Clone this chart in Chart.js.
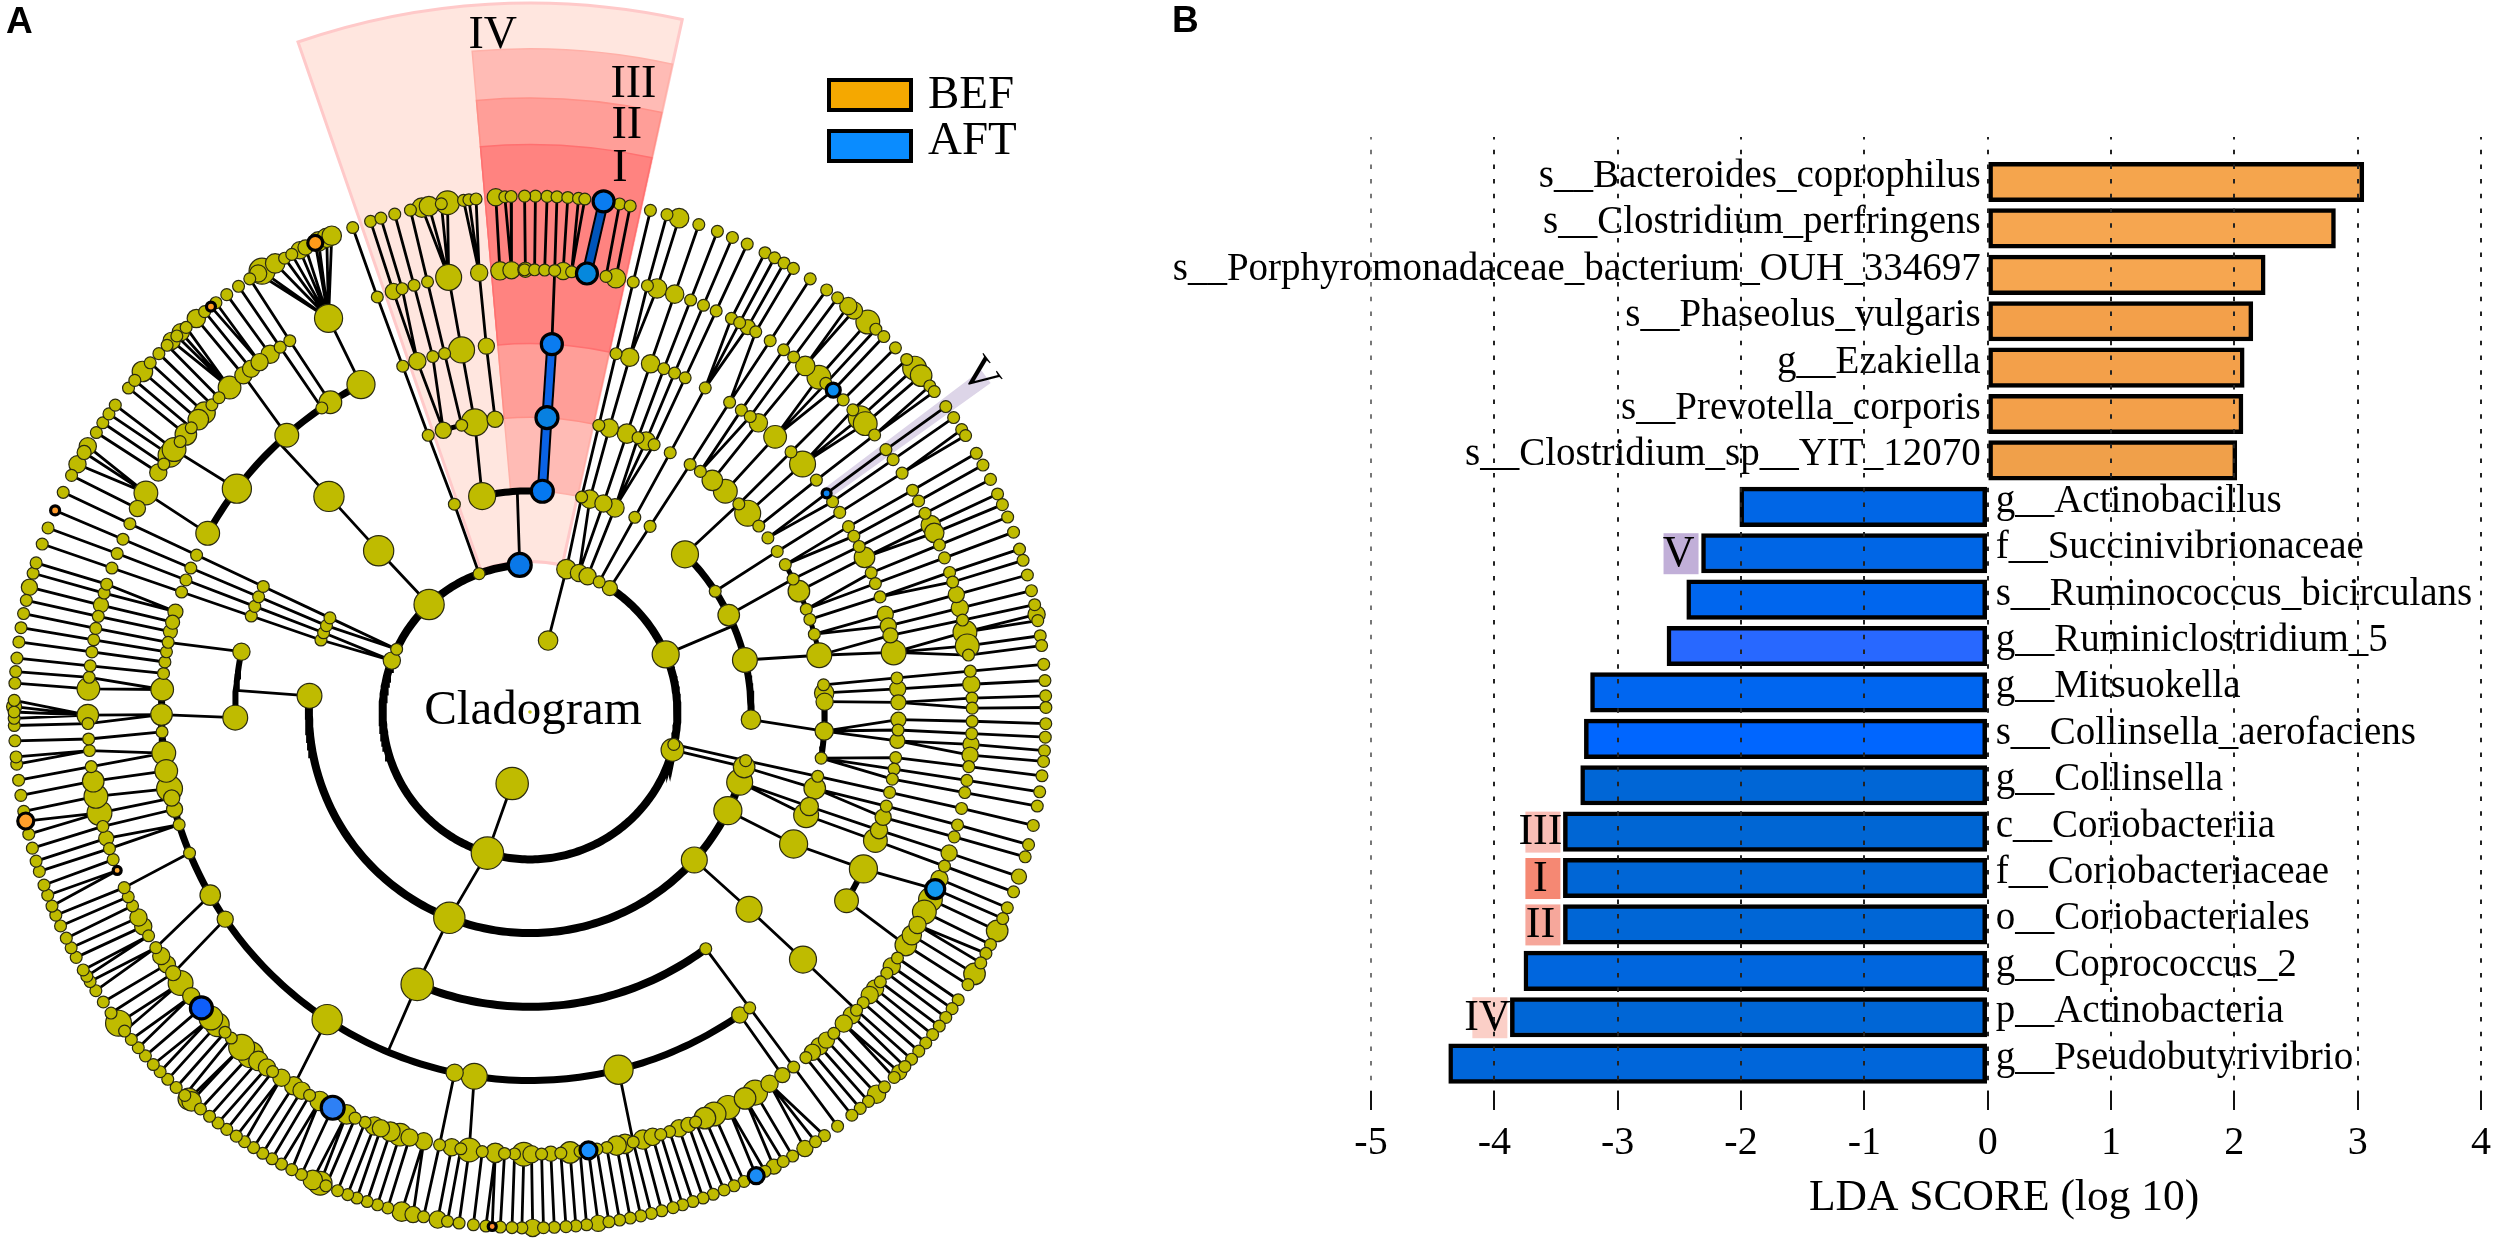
<!DOCTYPE html>
<html>
<head>
<meta charset="utf-8">
<title>Cladogram and LDA score</title>
<script src="https://cdn.jsdelivr.net/npm/chart.js@4/dist/chart.umd.js"></script>
<style>
  html, body { margin: 0; padding: 0; background: #fff; }
  canvas { position: absolute; top: 0; display: block; }
  #cladogram { left: 0; }
  #ldaBars { left: 1130px; }
</style>
</head>
<body>
<canvas id="cladogram" width="1130" height="1241"></canvas>
<canvas id="ldaBars" width="1370" height="1241"></canvas>
<script>
// LDA bars
const taxa = ['s__Bacteroides_coprophilus', 's__Clostridium_perfringens', 's__Porphyromonadaceae_bacterium_OUH_334697',
  's__Phaseolus_vulgaris', 'g__Ezakiella', 's__Prevotella_corporis', 's__Clostridium_sp__YIT_12070',
  'g__Actinobacillus', 'f__Succinivibrionaceae', 's__Ruminococcus_bicirculans', 'g__Ruminiclostridium_5',
  'g__Mitsuokella', 's__Collinsella_aerofaciens', 'g__Collinsella', 'c__Coriobacteriia', 'f__Coriobacteriaceae',
  'o__Coriobacteriales', 'g__Coprococcus_2', 'p__Actinobacteria', 'g__Pseudobutyrivibrio'];
const ldaScores = [3.05, 2.82, 2.25, 2.15, 2.08, 2.07, 2.02, -2.01, -2.32, -2.44, -2.6, -3.22, -3.27, -3.3, -3.44, -3.44, -3.44, -3.76, -3.87, -4.37];
const barColors = ['#F5A54D', '#F6A650', '#F6A650', '#F3A04A', '#F3A04A', '#F3A04A', '#F0A04A',
  '#0066E6', '#0066E6', '#0066EE', '#2868FF', '#0066F0', '#0066FF', '#0066D6', '#0066D4', '#0066D6', '#0066D6', '#0066DE', '#0066D6', '#0066DA'];
// taxon index, roman mark, tile colour
const barMarks = [[8, 'V', '#C1AFD8'], [14, 'III', '#F9BDB5'], [15, 'I', '#F58873'], [16, 'II', '#F6A79B'], [18, 'IV', '#FBCFC7']];
const axisTitle = 'LDA SCORE (log 10)';

// Cladogram nodes, angle in degrees clockwise from the top. [angle, size] where the node is not the small default
const level7 = [0.6, 1.9, 3, 4.2, 5.4, 6.1, 10, 11.2, 13.5, 15.4, [16.8, 9], 19.1, 21.3, 23.1, 24.9, 27.1, 28.3, 29.5, 30.7, 32.9, 35.1, 36.6,
  [38.9, 8], [38.1, 8], [40.9, 11], 42.1, 43.3, 45.1, 46.9, [48.2, 11], [49.3, 10], 50.8, 51.6, 53.7, 55.2, 56.8, 57.6, 59.9, 61.4, 63.2, 65, 66.3, 67.8,
  69.6, 71.6, 72.9, 74.6, 76.4, 78, [79.1, 8], 79.8, 81.5, 82.6, 84.7, 86.5, 88.2, 89.5, 91.3, 92.8, 94.3, 95.5, 97.1, 98.9, 100.5, 102.7, 104.9, 106.3,
  [108.6, 7], 110.4, 112.3, 113.6, [115.1, 10], 116.8, 117.9, 119.1, [120.5, 10], 121.9, 123.9, 125.1, 126.3, 127.5, 128.7, 129.9, 131.1, 132.3, 133.4,
  [134.3, 7], 135.1, 136.6, [137.8, 8.5], 139, 140.2, 141.4, 143.4, 145.2, 146.4, [147.8, 7.5], 149.4, 150.6, [151.8, 7], 152.9, 155.5, 156.7, 157.9,
  159.2, 160.4, 161.6, 162.8, 163.9, 165.2, 166.4, 167.6, 168.8, 170, 171.2, [172.4, 7.5], 173.7, 174.9, 176, 177.3, 178.5, [179.7, 8], 180.9, 182, 183.3,
  184.9, 186.3, 187.9, 189.2, [190.3, 8], 191.9, [193.1, 7.5], [194.4, 9], 196, 197.2, 198.4, 199.6, 200.7, 201.9, 203.3, [204.9, 9], [204, 11], 206.3,
  207.5, 208.8, 210, 211.2, 212.4, 213.6, 214.7, 216, 217.2, 218.4, 219.7, [221.4, 10], [221, 9], 222, 223.3, 224.6, 225.8, 226.9, 228.2, 229.4, 230.6,
  231.8, [232.9, 12], 234.3, 235.8, 237.3, 238.5, 239.2, 240, 241.6, 242.8, 244, 245.5, 246.8, 247.9, 249.2, 250.4, 252, 253.2, 254.7, 256.3, 258.9,
  260.7, 262.4, 264.2, 265, 266.8, 268.5, 269.3, 270, [270.6, 7], 271.3, 273.2, 274.5, 276, 277.8, 279.4, 281, 282.5, [284, 7.5], 285.6, 286.8, 289, 290.9,
  295.2, 297.3, [298.7, 8], [301, 8], [300.2, 6.5], 302.8, 304.1, 305.3, 306.5, 308.9, 310, [311.3, 9.5], 312.6, 314, 315.3, [316, 8], [317.4, 8], 316.8, 318.2,
  [319.7, 8.5], 320.9, 322.5, 324, 325.6, 327.1, [328.7, 12], [328.2, 8], [330.4, 9], 331.6, [333.5, 8], 332.5, [334.2, 7], [335.8, 9], [336.8, 9], [337.4, 9],
  339.9, 342, 343.2, 344.8, 346.6, [347.9, 9], [348.7, 9], [350.8, 11], 350.1, 352.6, 353.2, 354, [356.2, 8], 357.2, 357.9, 359.4];
const level6 = [359.3, 0.6, 1.9, 3.2, [4.3, 8], 5.4, 9.9, [11.2, 9], 13.5, 15.4, [16.7, 9], [19.1, 8.5], 21.3, 23.1, 24.9, 27.1, 28.3, [29.5, 7], 30.7, 32.9, 35, 36.6,
  [38.5, 9], [40.8, 11], 42, 45.1, 46.9, [48.3, 11], [49.3, 11], 51.2, 53.6, 55.2, 57.3, 59.9, 61.5, 63.3, [65, 9], [66.1, 9], 67.8, 69.6, 71.6, 72.9, [74.6, 7.5],
  [76.4, 8], 78, [79.6, 11], [81.4, 11], 82.6, 84.7, [86.4, 8], 88.2, 89.5, 91.2, 92.8, [94.2, 7.5], [95.6, 7.5], 97.1, 98.9, 100.5, 102.6, 104.8, 106.4, [108.6, 7.5],
  110.4, [112.2, 8], [115.1, 11], [116.9, 11], [118.8, 8], [120.3, 9], [121.8, 10], 123.8, [125.1, 8], 126.2, 127.6, [128.7, 8], [129.8, 8], 131.1, 132.4, [133.3, 8],
  [134.8, 8], 136.6, [137.9, 7.5], [139.1, 8], [140.3, 7.5], 141.4, 143.4, [145.2, 7], [147.2, 8], [149.4, 11.5], [150.9, 10], [153.4, 11], [155.4, 11], [156.7, 10], 158, [159, 7],
  [160.3, 8], 161.6, 162.8, [163.9, 8], [165.2, 9], 166.5, [167.6, 9], [168.7, 9], 170, 171.3, 173.5, [174.8, 10], 176, [177.3, 7], 178.5, [179.8, 8], [180.8, 11], 182, 183.3,
  [184.5, 9], 186.2, [187.9, 11], 189, [190.2, 8], 191.8, [193.9, 8], [195.8, 8], [197.1, 10.5], [198.4, 9], [199.7, 8], [200.6, 8.5], 201.9, 203.3, [204.5, 9], [208.4, 9],
  209.9, [211.1, 8], [212.3, 8.5], [214.2, 8], 215.6, [216.5, 8], [217.9, 9], [219.2, 12], [220.7, 12], 222.5, 223.6, [225, 11], [226.2, 11], [230, 8], [232.2, 11.5], [233.8, 7],
  [235.2, 8], [236.5, 8], 237.8, 239.6, [241, 8], [242.3, 8], 244, 245.3, 246.6, 250.5, 252, [253.4, 7], 255, [256.8, 11.5], [259, 11], [261, 10], 262.9, 265, 266.5, 268.5, [269.6, 10],
  [273, 10.5], 274.5, 276, 277.8, 279.4, 280.9, 282.5, [284, 7], 285.6, 286.8, 289, 291, 293, 295.2, [297.4, 7.5], [299.7, 11], [302.8, 8], 304.1, [305.5, 11], [306.4, 11], 307.7,
  [308.9, 10], 310, [311.4, 9.5], [312.6, 10], 314, 315.3, [317.2, 10.5], [319.6, 8], [320.9, 8], [322.3, 8], [324, 8.5], 325.6, 327.1, [332.9, 13], 339.8, [342, 7.5], 343.2, 344.8,
  346.6, [349.4, 12], [353.4, 8], [356.1, 8.5], [357.6, 8], [359.4, 7]];
const level5 = [13.5, [15.7, 8.5], [19.1, 8.5], 21.3, 23.1, 24.9, 28.4, 32.8, 35, 36.7, [38.3, 8.5], [41.7, 10.5], 45.1, [47.7, 12], 51, 55.2, 57.2, 59.8, 61.5, 63.3, [65.2, 9.5],
  67.8, 69.6, 71.8, [74.6, 7.5], [76.5, 7.5], [78, 7], [80.7, 11.5], 84.7, [86.4, 7.5], [88.5, 7], [91.2, 7], 92.8, [94.5, 7], 97.1, 98.9, 100.5, 102.6, 104.8, [106.6, 7.5], [108.7, 8],
  [110.4, 11], [115.2, 13], [120.8, 11], [132.2, 12.5], 143.4, [145.3, 7.5], [166.1, 13.5], [188.7, 12], [191.8, 8], [213.4, 14], [235.8, 7.5], [240.2, 9.5], 247.5, 252.2, [254.7, 7.5], [256.5, 7.5],
  [258, 12], [260.8, 10.5], [263.6, 11], 266.9, [269.6, 10], [273.5, 10.5], 276, 277.8, 279.4, 280.9, [282.6, 6.5], [284.1, 6.5], [285.8, 7], 289, 291, 293, 295.2, [299, 11], [307.3, 13.5],
  [318.7, 11], 325.6, [327.2, 10.5], [332.7, 13], 339.8, [342.2, 8], 344.7, 346.6, [349.3, 12], [353.2, 7.5]];
const level4 = [13.5, [15.6, 8.5], [19.2, 9], 21.5, [23.2, 8.5], 24.9, 28.4, 32.9, 35.3, [38.2, 9.5], [41.5, 11], 45.1, [47.6, 12], 50.9, 53.8, 57, 60, 63.2, [65.8, 10], 69.6, 71.7, 74.7,
  [78.9, 11.5], 84.7, [86.3, 9], [88, 8], [93.7, 8.5], 99, 102.6, [105, 10], [108.7, 8.5], [110.5, 11.5], [116.6, 13], [132, 12], [143.4, 5.5], [202.5, 15], [268.9, 11.5], [281.8, 8], 289,
  291, 293, 295.2, [317, 14], 339.8, [342.9, 7.5], 346.6, [349.2, 12.5], [353.2, 7.5]];
const level3 = [13.5, [15.7, 8.5], [19.4, 8], [22.6, 8.5], 28.3, 32.9, [44.5, 12.5], 56.9, [64, 10], [76.4, 11.5], [92, 9], 102.7, [104.4, 10], [108.5, 12], [116.5, 13], [132, 12],
  [201.4, 14.5], [274.2, 11.5], 289, 291, 293, 295.2, [316.8, 14], 340, [347.5, 12.5]];
const level2 = [[14.3, 9], [19.4, 8], [23, 8], 28, [32.8, 7], [67, 12.5], [104.9, 10.5], 102.7, [196.8, 15], [290.4, 8], 295.2, [316.8, 14], 339.8];
const level1 = [[14.2, 9], [194, 15]];

// Enriched nodes: level, angle, size
const aftNodes = [[7, 8.2, 12, '#0A7CF0'], [7, 154, 9.5, '#1A8CF5'], [6, 7.4, 12, '#0688DD'], [6, 43.3, 8.5, '#0A8CF0'], [6, 113.6, 11, '#1198F0'], [6, 172.4, 10, '#1A90FF'],
  [6, 206.5, 13, '#2E80F5'], [6, 228, 12.5, '#0E5EFA'], [5, 3.4, 12, '#0A7CF0'], [5, 53.6, 6, '#0A84F0'], [4, 3.3, 12.5, '#0880E0'], [3, 3.2, 12.5, '#0578F0'], [2, 356, 13, '#0A78E8']];
const befNodes = [[7, 335.4, 9, '#FF9A1A'], [7, 321.8, 6, '#FF9A20'], [7, 293, 6, '#FF9A2A'], [7, 257.8, 9.5, '#FF9E2A'], [7, 184.2, 5.5, '#FF8C30'], [6, 249, 5.5, '#FFAA33']];

// Branches that do not follow the nearest-node rule: child level, child angle, parent level, parent angle
const stems = [[6, 3.2, 5, 3.4], [6, 113.6, 5, 115.2], [6, 121.8, 5, 120.8], [6, 132.4, 5, 132.2], [6, 143.4, 5, 143.4], [6, 145.2, 5, 145.3], [6, 166.5, 5, 166.1], [6, 187.9, 5, 188.7],
  [6, 191.8, 5, 191.8], [6, 212.3, 5, 213.4], [6, 233.8, 5, 235.8], [6, 237.8, 5, 240.2], [6, 246.6, 5, 247.5], [6, 299.7, 5, 299], [6, 306.4, 5, 307.3], [6, 319.6, 5, 318.7],
  [6, 325.6, 5, 325.6], [6, 327.1, 5, 327.2], [6, 332.9, 5, 332.7], [5, 115.2, 4, 116.6], [5, 132.2, 4, 132], [5, 143.4, 4, 143.4], [5, 202.7, 4, 202.5], [5, 317, 4, 317], [5, 280.9, 4, 281.8],
  [5, 269.6, 4, 268.9], [5, 289, 4, 289], [5, 291, 4, 291], [5, 293, 4, 293], [5, 295.2, 4, 295.2], [4, 13.5, 3, 13.5], [4, 15.6, 3, 15.7], [4, 19.2, 3, 19.4], [4, 21.5, 3, 22.6], [4, 23.2, 3, 22.6],
  [4, 24.9, 3, 22.6], [4, 28.4, 3, 28.3], [4, 32.9, 3, 32.9], [4, 45.1, 3, 44.5], [4, 57, 3, 56.9], [4, 63.2, 3, 64], [4, 78.9, 3, 76.4], [4, 93.7, 3, 92], [4, 102.6, 3, 102.7], [4, 105, 3, 104.4],
  [4, 108.7, 3, 108.5], [4, 110.5, 3, 108.5], [4, 116.6, 3, 116.5], [4, 132, 3, 132], [4, 202.5, 3, 201.4], [4, 274.2, 3, 274.2], [4, 289, 3, 289], [4, 291, 3, 291], [4, 293, 3, 293], [4, 295.2, 3, 295.2],
  [4, 317, 3, 316.8], [4, 339.8, 3, 340], [4, 349.2, 3, 347.5], [3, 13.5, 2, 14.3], [3, 15.7, 2, 19.4], [3, 19.4, 2, 19.4], [3, 22.6, 2, 23], [3, 28.3, 2, 28], [3, 32.9, 2, 32.8], [3, 67, 2, 67],
  [3, 102.7, 2, 102.7], [3, 104.4, 2, 104.9], [3, 201.4, 2, 196.8], [3, 289, 2, 290.4], [3, 291, 2, 290.4], [3, 293, 2, 295.2], [3, 295.2, 2, 295.2], [3, 316.8, 2, 316.8], [3, 340, 2, 339.8],
  [3, 356.7, 2, 356], [2, 14.3, 1, 14.2], [2, 196.8, 1, 194]];
// Fans where several leaves share one level 6 parent: parent angle, first leaf, last leaf
const leafFans = [[332.9, 328.2, 337.4], [317.2, 316, 318.2], [299.7, 298.7, 301], [349.4, 347.9, 350.8], [353.4, 352.6, 354], [269.6, 269.3, 271.5], [147.2, 145.2, 147.8]];
// Ring arcs: level, from angle, to angle, line width
const ringArcs = [[2, 33, 356, 8], [3, 44.5, 92, 7], [3, 103, 274, 8], [3, 347.5, 363.2, 7], [4, 60, 79, 5], [4, 84.7, 99, 6], [4, 143.4, 202.5, 8], [4, 268.9, 281.8, 6], [4, 342.9, 353.2, 5],
  [5, 115.2, 120.8, 6], [5, 145.3, 272, 7], [5, 299, 332.7, 7]];
// Thick blue branches: child level, child angle, parent level, parent angle, colour
const aftBranches = [[4, 3.3, 3, 3.2, '#0A63E6'], [5, 3.4, 4, 3.3, '#0A63E6'], [7, 8.2, 6, 7.4, '#0055BB']];
// Highlighted wedges: name, from angle, to angle, inner level, outer level, fill, edge
const wedges = [['IV', 340.9, 372.4, 2.04, 9.62, '#FFE6DF', '#FFC9C9'], ['III', 355, 372.4, 3, 9, '#FFBBB5', '#FFB0A8'], ['II', 355, 372.4, 4, 8.33, '#FF9E98', '#FF9088'],
  ['I', 355, 372.4, 5, 7.7, '#FF8380', '#FF7070'], ['V', 52.9, 54.4, 5, 7.67, '#DDD5E8', '#DDD5E8']];
// Wedge captions: name, level, angle, rotation
const wedgeLabels = [['IV', 9.19, 356.85, 0], ['III', 8.62, 9.37, 0], ['II', 8.06, 9.38, 0], ['I', 7.47, 9.4, 0], ['V', 7.6, 53.2, 53.2]];
const legendItems = [['BEF', '#F5A800'], ['AFT', '#0A8CFF']];

const serif = '"Liberation Serif"';
const levelStep = 73.7;
const nodeScale = 1.08;

Chart.defaults.font.family = serif;
Chart.defaults.animation = false;

function toRad(angle) {
  return angle * Math.PI / 180;
}

function polar(level, angle) {
  return { x: level * Math.sin(toRad(angle)), y: level * Math.cos(toRad(angle)) };
}

function readLevel(list, level) {
  return list.map(item => Array.isArray(item)
    ? { level, angle: item[0], size: item[1] * nodeScale }
    : { level, angle: item, size: 5.5 * nodeScale });
}

function angleGap(a, b) {
  const d = Math.abs(a - b) % 360;
  return d > 180 ? 360 - d : d;
}

function inSectors(angle, sectors) {
  return sectors.some(s => angle >= s[0] && angle <= s[1]);
}

const plainLevels = { 7: readLevel(level7, 7), 6: readLevel(level6, 6), 5: readLevel(level5, 5), 4: readLevel(level4, 4), 3: readLevel(level3, 3), 2: readLevel(level2, 2), 1: readLevel(level1, 1) };
const enriched = aftNodes.concat(befNodes);

function levelAngles(level) {
  return plainLevels[level].map(n => n.angle).concat(enriched.filter(n => n[0] === level).map(n => n[1]));
}

// nearest node one level down, within a few degrees
function nearestParent(angle, level) {
  let best = null;
  levelAngles(level).forEach(a => {
    if (angleGap(a, angle) <= 2.6 && (best === null || angleGap(a, angle) < angleGap(best, angle))) best = a;
  });
  return best;
}

function addEdge(out, level, angle, parentLevel, parentAngle) {
  out.push(polar(level, angle), polar(parentLevel, parentAngle), { x: NaN, y: NaN });
}

function buildEdges() {
  const out = [];
  levelAngles(7).forEach(angle => {
    if (angle === 8.2) return;
    const fan = leafFans.find(f => angle >= f[1] && angle <= f[2]);
    const parent = fan ? fan[0] : nearestParent(angle, 6);
    if (parent !== null) addEdge(out, 7, angle, 6, parent);
  });
  const sectors65 = [[13, 112], [252, 296.9], [339, 354]];
  levelAngles(6).filter(a => inSectors(a, sectors65)).forEach(angle => {
    const parent = nearestParent(angle, 5);
    if (parent !== null) addEdge(out, 6, angle, 5, parent);
  });
  const sectors54 = [[13, 112], [339, 354]];
  levelAngles(5).filter(a => inSectors(a, sectors54)).forEach(angle => {
    const parent = nearestParent(angle, 4);
    if (parent !== null) addEdge(out, 5, angle, 4, parent);
  });
  stems.forEach(s => addEdge(out, s[0], s[1], s[2], s[3]));
  return out;
}

function arcDataset(arc) {
  const data = [];
  for (let a = arc[1]; a < arc[2]; a += 1) data.push(polar(arc[0], a));
  data.push(polar(arc[0], arc[2]));
  return { type: 'scatter', data, showLine: true, pointRadius: 0, borderColor: '#000', borderWidth: arc[3], order: 3 };
}

function branchDatasets(b) {
  const data = [polar(b[0], b[1]), polar(b[2], b[3])];
  return [
    { type: 'scatter', data, showLine: true, pointRadius: 0, borderColor: '#000', borderWidth: 11, order: 2 },
    { type: 'scatter', data, showLine: true, pointRadius: 0, borderColor: b[4], borderWidth: 7, order: 1 }
  ];
}

function nodeDataset() {
  let all = [];
  Object.keys(plainLevels).forEach(l => { all = all.concat(plainLevels[l]); });
  all.sort((a, b) => b.size - a.size);
  const picked = all.map(n => ({ ...n, color: '#BFBB00', edge: '#2b2b10', edgeWidth: 1.2 }));
  enriched.forEach(n => picked.push({ level: n[0], angle: n[1], size: n[2] - 1.5, color: n[3], edge: '#000', edgeWidth: 3.2 }));
  return {
    type: 'scatter',
    data: picked.map(n => polar(n.level, n.angle)),
    pointRadius: picked.map(n => n.size),
    pointBackgroundColor: picked.map(n => n.color),
    pointBorderColor: picked.map(n => n.edge),
    pointBorderWidth: picked.map(n => n.edgeWidth),
    order: 0
  };
}

// root dot in the middle of the rings
const rootDataset = { type: 'scatter', data: [{ x: 0, y: 0 }], pointRadius: 1.8, pointBackgroundColor: '#BFBB00', pointBorderWidth: 0, order: 0 };

const wedgePlugin = {
  id: 'wedgePlugin',
  beforeDatasetsDraw(chart) {
    const { ctx, scales } = chart;
    const cx = scales.x.getPixelForValue(0);
    const cy = scales.y.getPixelForValue(0);
    const unit = scales.x.getPixelForValue(1) - cx;
    wedges.forEach(w => {
      ctx.save();
      ctx.beginPath();
      ctx.arc(cx, cy, w[4] * unit, toRad(w[1] - 90), toRad(w[2] - 90));
      ctx.arc(cx, cy, w[3] * unit, toRad(w[2] - 90), toRad(w[1] - 90), true);
      ctx.closePath();
      ctx.fillStyle = w[5];
      ctx.fill();
      ctx.lineWidth = w[0] === 'IV' ? 3 : 1.5;
      ctx.strokeStyle = w[6];
      ctx.stroke();
      ctx.restore();
    });
  },
  afterDatasetsDraw(chart) {
    const { ctx, scales } = chart;
    ctx.save();
    ctx.fillStyle = '#000';
    ctx.textAlign = 'center';
    ctx.textBaseline = 'middle';
    ctx.font = '46px ' + serif;
    wedgeLabels.forEach(l => {
      const p = polar(l[1], l[2]);
      ctx.save();
      ctx.translate(scales.x.getPixelForValue(p.x), scales.y.getPixelForValue(p.y));
      ctx.rotate(toRad(l[3]));
      ctx.fillText(l[0], 0, 0);
      ctx.restore();
    });
    ctx.textBaseline = 'alphabetic';
    ctx.font = '49px ' + serif;
    ctx.fillText('Cladogram', scales.x.getPixelForValue(0) + 3, scales.y.getPixelForValue(0) + 12);
    // legend
    ctx.textAlign = 'left';
    ctx.font = '47px ' + serif;
    legendItems.forEach((item, i) => {
      const top = 80 + i * 51;
      ctx.fillStyle = item[1];
      ctx.fillRect(829, top, 82, 30);
      ctx.lineWidth = 4;
      ctx.strokeStyle = '#000';
      ctx.strokeRect(829, top, 82, 30);
      ctx.fillStyle = '#000';
      ctx.fillText(item[0], 928, 108 + i * 46);
    });
    ctx.font = 'bold 37px "Liberation Sans"';
    ctx.fillText('A', 6, 33);
    ctx.restore();
  }
};

new Chart(document.getElementById('cladogram'), {
  data: {
    datasets: [nodeDataset(), rootDataset]
      .concat(aftBranches.flatMap(branchDatasets))
      .concat(ringArcs.map(arcDataset))
      .concat([{ type: 'scatter', data: buildEdges(), showLine: true, spanGaps: false, pointRadius: 0, borderColor: '#000', borderWidth: 2.8, order: 4 }])
  },
  options: {
    responsive: false,
    layout: { padding: 0, autoPadding: false },
    plugins: { legend: { display: false }, tooltip: { enabled: false } },
    scales: {
      x: { type: 'linear', display: false, min: -530 / levelStep, max: 600 / levelStep },
      y: { type: 'linear', display: false, min: -529 / levelStep, max: 712 / levelStep }
    }
  },
  plugins: [wedgePlugin]
});

const barTextPlugin = {
  id: 'barTextPlugin',
  afterDatasetsDraw(chart) {
    const { ctx, scales } = chart;
    const bars = chart.getDatasetMeta(0).data;
    ctx.save();
    ctx.fillStyle = '#000';
    ctx.font = '39px ' + serif;
    ctx.textBaseline = 'alphabetic';
    taxa.forEach((name, i) => {
      const positive = ldaScores[i] > 0;
      ctx.textAlign = positive ? 'right' : 'left';
      ctx.fillText(name, bars[i].base + (positive ? -8 : 9), bars[i].y + 5);
    });
    ctx.font = '44px ' + serif;
    ctx.textAlign = 'center';
    ctx.textBaseline = 'middle';
    barMarks.forEach(m => {
      const bar = bars[m[0]];
      ctx.fillStyle = m[2];
      ctx.fillRect(bar.x - 38, bar.y - 20, 35, 41);
      ctx.fillStyle = '#000';
      ctx.fillText(m[1], bar.x - 23, bar.y + 1);
    });
    ctx.font = '43.5px ' + serif;
    ctx.fillText(axisTitle, scales.x.getPixelForValue(0) + 16.5, 1199);
    ctx.font = 'bold 37px "Liberation Sans"';
    ctx.textAlign = 'left';
    ctx.textBaseline = 'alphabetic';
    ctx.fillText('B', 42, 32);
    ctx.restore();
  }
};

new Chart(document.getElementById('ldaBars'), {
  type: 'bar',
  data: {
    datasets: [{
      data: taxa.map((name, i) => ({ x: ldaScores[i], y: i })),
      backgroundColor: barColors,
      borderColor: '#000',
      borderWidth: 4.5,
      borderSkipped: false,
      barThickness: 39.5
    }]
  },
  options: {
    indexAxis: 'y',
    responsive: false,
    layout: { padding: { left: 241, right: 18, top: 137, bottom: 0 }, autoPadding: false },
    plugins: { legend: { display: false }, tooltip: { enabled: false } },
    scales: {
      y: { type: 'linear', display: false, offset: false, reverse: true, min: -0.97, max: 19.59 },
      x: {
        type: 'linear',
        min: -5,
        max: 4,
        afterFit(scale) { scale.height = 150; },
        border: { display: false, dash: [4.5, 10.2], dashOffset: 2 },
        grid: { color: c => (c.tick && c.tick.value === -5 ? '#777' : '#222'), lineWidth: 2, z: 1, tickLength: 19, tickColor: '#111', tickWidth: 2, tickBorderDash: [] },
        ticks: { stepSize: 1, maxRotation: 0, color: '#000', padding: 9, font: { size: 40 }, callback: v => String(v) }
      }
    }
  },
  plugins: [barTextPlugin]
});
</script>
</body>
</html>
